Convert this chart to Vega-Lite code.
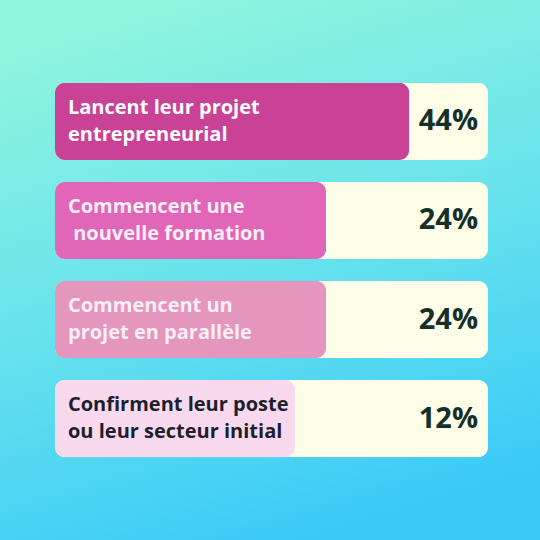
{
  "$schema": "https://vega.github.io/schema/vega-lite/v6.json",
  "description": "Barres horizontales : ce que font les répondants",
  "width": 540,
  "height": 540,
  "padding": 0,
  "autosize": {"type": "none"},
  "background": "#6fe3ec",
  "data": {
    "values": [
      {"label": "Lancent leur projet\nentrepreneurial", "pourcentage": 0.44, "longueur": 81.8, "total": 100},
      {"label": "Commencent une\n\u200b\u00a0nouvelle formation", "pourcentage": 0.24, "longueur": 62.6, "total": 100},
      {"label": "Commencent un\nprojet en parallèle", "pourcentage": 0.24, "longueur": 62.6, "total": 100},
      {"label": "Confirment leur poste\nou leur secteur initial", "pourcentage": 0.12, "longueur": 55.4, "total": 100}
    ]
  },
  "encoding": {
    "y": {
      "field": "label",
      "type": "nominal",
      "sort": null,
      "axis": null,
      "scale": {"paddingInner": 0.22, "paddingOuter": 0.837}
    }
  },
  "layer": [
    {
      "mark": {"type": "bar", "color": "#fdfde8", "cornerRadius": 10},
      "encoding": {
        "x": {"field": "total", "type": "quantitative", "axis": null, "scale": {"domain": [-12.7, 112], "nice": false, "zero": false}}
      }
    },
    {
      "mark": {"type": "bar", "cornerRadius": 10},
      "encoding": {
        "x": {"field": "longueur", "type": "quantitative"},
        "color": {
          "field": "label",
          "type": "nominal",
          "sort": null,
          "legend": null,
          "scale": {"range": ["#ca4296", "#e266b7", "#e496bd", "#f8d9ee"]}
        }
      }
    },
    {
      "mark": {
        "type": "text",
        "align": "left",
        "baseline": "middle",
        "dy": -13.5,
        "lineBreak": "\n",
        "lineHeight": 27,
        "font": "Open Sans",
        "fontSize": 20,
        "fontWeight": "bold"
      },
      "encoding": {
        "x": {"datum": 3},
        "text": {"field": "label", "type": "nominal"},
        "color": {
          "field": "label",
          "type": "nominal",
          "sort": null,
          "legend": null,
          "scale": {"range": ["#ffffff", "#fdeef8", "#fdeff3", "#1c1f2c"]}
        }
      }
    },
    {
      "mark": {
        "type": "text",
        "align": "right",
        "baseline": "middle",
        "dx": -10,
        "font": "Open Sans",
        "fontSize": 29,
        "fontWeight": "bold",
        "color": "#15302b"
      },
      "encoding": {
        "x": {"datum": 100},
        "text": {"field": "pourcentage", "type": "quantitative", "format": ".0%"}
      }
    }
  ],
  "resolve": {"scale": {"color": "independent"}},
  "config": {
    "view": {
      "stroke": null,
      "fill": {
        "gradient": "linear",
        "x1": 0.35,
        "y1": 0,
        "x2": 0.65,
        "y2": 1,
        "stops": [
          {"offset": 0, "color": "#8ff5de"},
          {"offset": 0.5, "color": "#66e2ed"},
          {"offset": 1, "color": "#38c9f8"}
        ]
      }
    }
  }
}
